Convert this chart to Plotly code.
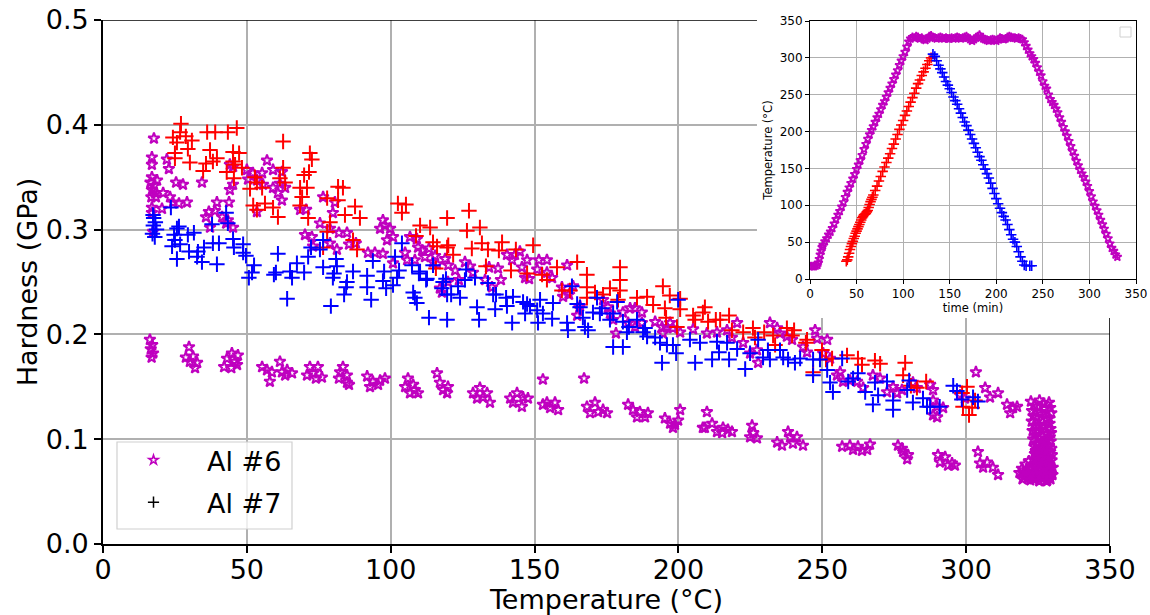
import plotly.graph_objects as go

# ---------------- main plot data: (temperature degC, hardness GPa) ----------------
al6_heat = [
(17.7,.387),(17.0,.369),(17.0,.362),(17.0,.350),(16.5,.345),(17.8,.342),(17.0,.338),(18.2,.335),
(16.8,.331),(18.4,.331),(18.8,.347),(22.2,.367),(22.9,.358),(25.4,.345),(27.8,.343),(20.9,.335),
(23.3,.331),(24.3,.326),(26.4,.325),(29.2,.326),(20.5,.320),(17.0,.321),(17.0,.316),(17.4,.298),
(34.4,.345),(36.8,.317),(35.8,.312),(37.2,.302),(39.6,.326),(44.1,.338),(45.2,.343),(44.1,.362),
(45.2,.360),(41.4,.312),(43.4,.309),(45.2,.302),(43.8,.326),(38.9,.318),(42.8,.306),(57.0,.366),
(50.0,.357),(52.1,.354),(55.3,.354),(50.4,.348),(53.5,.347),(55.6,.343),(53.5,.317),(59.1,.357),
(62.2,.355),(61.5,.344),(59.1,.340),(63.3,.340),(60.8,.335),(62.2,.328),(68.5,.319),(70.6,.319),
(76.5,.331),(79.9,.316),(80.6,.326),(70.2,.295),(72.6,.293),(73.0,.284),(75.4,.306),(78.9,.301),
(78.9,.287),(81.3,.281),(82.0,.297),(84.8,.297),(85.5,.286),(87.9,.287),(92.1,.278),(94.5,.278),
(97.3,.277),(96.3,.301),(98.0,.304),(99.8,.301),(100.8,.293),(100.8,.268),(105.0,.278),(106.7,.293),
(109.1,.291),(109.5,.283),(111.9,.274),(113.3,.282),(114.7,.269),(116.1,.267),(117.8,.240),(119.9,.250),
(97.3,.309),(98.7,.290),(105.7,.271),(108.4,.271),(115.4,.275),(110.9,.280),(118.9,.272),(120.0,.266),
(122.4,.261),(123.7,.252),(125.8,.269),(127.6,.265),(128.6,.259),(117.1,.244),(132.8,.252),(135.2,.245),
(134.2,.264),(137.3,.263),(138.3,.252),(140.4,.276),(142.2,.271),(143.2,.276),(144.9,.279),(147.4,.271),
(145.6,.264),(146.7,.254),(148.1,.253),(150.9,.262),(151.5,.271),(154.3,.271),(154.3,.259),(156.1,.254),
(161.3,.266),(159.5,.245),(159.9,.236),(162.0,.238),(163.4,.246),(164.8,.218),(165.5,.225),(165.8,.227),
(173.8,.233),(175.5,.226),(176.2,.220),(177.3,.214),(178.3,.201),(180.7,.221),(183.2,.225),(184.9,.225),
(187.3,.221),(182.5,.211),(184.9,.207),(187.3,.211),(191.9,.212),(194.3,.207),(196.0,.207),(197.1,.211),
(198.1,.206),(194.6,.201),(200.6,.202),(205.1,.205),(209.9,.201),(213.4,.202),(216.9,.204),(220.4,.211),
(218.6,.197),(222.5,.192),(227.7,.173),(224.9,.182),(227.3,.185),(231.8,.211),(234.3,.206),(235.3,.201),
(237.7,.198),(239.5,.195),(243.3,.188),(244.7,.183),(247.5,.204),(248.2,.196),(251.7,.195),(250.3,.182),
(252.7,.177),(255.1,.161),(256.2,.164),(257.2,.155),(259.6,.156),(262.1,.155),(264.2,.149),(267.6,.161),
(270.1,.158),(272.5,.145),(274.6,.150),(276.0,.144),(277.7,.147),(281.5,.154),(282.9,.149),(287.5,.152),
(288.5,.147),(288.5,.137),(289.9,.131),(288.5,.123),(289.9,.121),(292.0,.130),(297.9,.142),(299.6,.139),
(303.4,.164),(306.6,.149),(308.3,.140),(311.1,.144),(314.2,.133),(316.3,.130),(315.3,.125),(317.7,.131),
]

al6_hold = [
(325.5,.137),(326.8,.134),(324.9,.131),(327.4,.129),(325.8,.126),(326.2,.124),(324.6,.121),(327.9,.119),
(326.5,.116),(325.2,.114),(327.1,.112),(326.0,.109),(324.3,.107),(328.0,.105),(326.7,.103),(325.4,.101),
(327.6,.099),(326.1,.097),(324.8,.095),(327.3,.094),(325.9,.092),(326.4,.090),(328.3,.089),(324.9,.087),
(326.8,.086),(325.3,.084),(327.7,.083),(326.2,.082),(324.6,.080),(328.1,.079),(325.7,.078),(326.9,.077),
(324.2,.076),(327.5,.075),(323.6,.074),(328.6,.073),(325.1,.072),(329.0,.072),(322.4,.071),(326.3,.070),
(327.9,.070),(321.2,.069),(324.7,.068),(328.4,.068),(323.0,.067),(326.6,.067),(329.4,.066),(320.5,.066),
(325.8,.065),(327.3,.065),(322.0,.064),(329.1,.064),(324.0,.063),(326.9,.063),(319.6,.062),(323.5,.062),
(328.2,.061),
(322.5,.136),(328.8,.135),(323.8,.132),(329.2,.130),(322.9,.127),(329.6,.125),(323.4,.122),(328.9,.120),
(322.8,.117),(329.0,.115),(323.6,.113),(329.3,.110),(323.1,.108),(329.5,.106),(324.0,.104),(329.1,.102),
(323.3,.100),(329.4,.098),(324.4,.096),(328.8,.094),(323.7,.093),(329.6,.091),(324.2,.089),(329.2,.088),
(323.9,.086),(329.8,.085),(324.5,.083),(329.0,.082),(323.2,.081),(329.7,.080),(321.8,.079),(325.0,.078),
(328.5,.077),(320.6,.076),(323.8,.075),(327.0,.074),(330.1,.073),(319.4,.072),(322.6,.071),(325.6,.070),
(328.8,.069),(318.5,.068),(321.3,.067),(324.3,.066),(327.6,.065),(330.0,.066),(320.0,.064),(323.0,.063),
(326.1,.063),(329.3,.062),(322.3,.061),(325.4,.060),(328.0,.060),
]

al6_cool = [
(16.3,.195),(17.1,.190),(16.6,.186),(17.4,.182),(16.9,.178),
(29.9,.188),(28.8,.178),(31.3,.179),(30.2,.174),(32.7,.173),(32.0,.168),
(44.8,.182),(46.9,.180),(43.1,.177),(45.9,.174),(42.1,.169),(44.6,.168),(46.6,.171),
(55.3,.169),(57.0,.166),(58.0,.155),(58.7,.164),(61.5,.174),(62.2,.164),(64.0,.166),(65.7,.163),(63.3,.161),
(71.9,.169),(74.7,.169),(70.9,.161),(73.0,.163),(76.1,.159),(74.0,.158),
(83.4,.169),(82.4,.164),(84.8,.161),(82.0,.158),(84.8,.154),(85.5,.152),
(91.8,.160),(93.8,.155),(96.3,.156),(98.0,.158),(92.8,.150),(95.6,.152),
(106.0,.158),(105.0,.150),(107.8,.152),(106.7,.144),(109.5,.144),(108.4,.147),
(116.1,.163),(117.1,.154),(118.2,.147),(119.9,.150),(119.6,.144),
(128.6,.144),(131.0,.149),(132.1,.140),(134.5,.135),(130.0,.139),(133.5,.144),
(141.5,.139),(143.9,.144),(146.0,.140),(147.7,.139),(145.6,.131),(142.5,.135),
(152.9,.157),(167.2,.158),
(154.3,.135),(157.1,.135),(155.4,.130),(158.2,.128),(152.9,.133),
(168.2,.131),(171.0,.135),(172.1,.126),(173.8,.128),(169.3,.125),(175.2,.125),
(182.5,.133),(184.2,.128),(186.6,.126),(188.4,.121),(185.6,.121),(189.4,.125),
(195.3,.120),(197.1,.115),(198.8,.114),(199.9,.118),(198.1,.111),(200.6,.128),
(209.9,.126),
(209.2,.111),(211.7,.115),(213.4,.107),(215.5,.111),(217.2,.109),(215.2,.106),(218.6,.107),(208.5,.111),
(225.6,.113),(226.0,.106),(227.3,.101),(224.9,.102),
(234.3,.097),(236.0,.094),(238.1,.107),(238.8,.102),(241.2,.102),(243.3,.094),(239.8,.096),
(256.9,.093),(259.6,.094),(262.4,.093),(265.6,.090),(266.6,.095),(260.7,.090),(263.8,.089),
(276.3,.094),(278.1,.088),(279.8,.085),(279.5,.081),(277.7,.091),
(304.1,.088),
(290.2,.085),(292.7,.083),(295.1,.077),(293.7,.075),(290.9,.078),(296.1,.075),
(304.8,.077),(307.3,.078),(309.3,.073),(311.1,.066),(305.9,.073),
]

al7_heat = [
(27.1,.401),(26.8,.393),(24.3,.388),(25.7,.383),(28.8,.389),(30.9,.385),(29.5,.377),(25.0,.373),
(25.0,.368),(30.2,.364),(36.2,.393),(39.0,.393),(43.4,.393),(46.5,.397),(37.2,.376),(39.6,.368),
(38.2,.365),(35.8,.363),(34.8,.356),(45.2,.374),(47.3,.373),(45.2,.365),(43.0,.355),(45.9,.362),
(48.3,.359),(45.5,.349),(62.6,.384),(62.6,.359),(61.5,.349),(63.3,.345),(52.8,.350),(53.5,.345),
(51.1,.339),(55.3,.340),(52.2,.323),(56.3,.325),(59.1,.321),(60.8,.312),(53.5,.319),(71.9,.373),
(72.6,.367),(71.6,.355),(69.9,.352),(68.5,.340),(70.9,.340),(69.2,.331),(68.5,.323),(71.3,.311),
(77.9,.330),(81.7,.341),(83.4,.340),(81.7,.328),(84.1,.314),(87.6,.322),(89.3,.311),(86.9,.290),
(88.3,.281),(78.9,.307),(77.9,.298),(76.5,.283),(102.5,.325),(105.3,.324),(103.9,.316),(110.2,.304),
(113.7,.302),(108.8,.294),(114.7,.288),(116.1,.284),(119.6,.311),(119.6,.283),(127.2,.318),(131.0,.302),
(126.5,.299),(120.0,.285),(128.2,.282),(131.7,.287),(133.8,.281),(138.7,.288),(137.6,.280),(143.5,.281),
(149.5,.285),(141.8,.261),(133.1,.265),(121.7,.276),(115.7,.263),(147.4,.258),(152.6,.257),(154.3,.252),
(157.8,.264),(164.8,.269),(168.2,.257),(168.2,.245),(168.2,.235),(159.5,.242),(162.3,.242),(171.0,.240),
(173.8,.238),(176.2,.244),(179.7,.264),(179.7,.252),(179.7,.242),(179.0,.233),(185.6,.235),(189.1,.236),
(191.2,.228),(194.6,.246),(195.3,.225),(195.7,.216),(197.0,.237),(199.5,.207),(200.6,.234),(200.6,.224),
(205.1,.218),(205.8,.214),(209.2,.226),(208.5,.221),(210.3,.212),(213.0,.214),(214.5,.214),(217.6,.218),
(218.6,.204),(222.5,.202),(225.9,.206),(226.6,.197),(229.8,.202),(232.9,.199),(233.6,.190),(237.7,.206),
(240.2,.204),(239.5,.199),(244.7,.195),(244.3,.192),(246.8,.164),(249.9,.185),(251.3,.176),(253.4,.177),
(258.6,.180),(262.4,.177),(263.8,.171),(268.3,.175),(270.1,.172),(278.8,.173),(278.1,.161),(280.8,.151),
(282.9,.149),(286.1,.155),(298.6,.144),(300.3,.150),(303.1,.137),(302.1,.130),(298.9,.131),(301.0,.123),
]

al7_cool = [
(23.6,.321),(17.4,.314),(17.6,.311),(18.2,.307),(17.5,.304),(18.6,.300),(17.2,.296),(18.0,.293),
(26.4,.303),(25.7,.301),(24.7,.295),(25.0,.290),(24.0,.284),(26.8,.286),(25.7,.272),
(29.5,.295),(31.6,.297),(29.9,.279),(33.0,.279),(32.7,.274),(34.4,.269),(35.1,.283),
(38.2,.287),(40.3,.287),(39.6,.267),(42.8,.316),(43.4,.306),(37.9,.305),(45.2,.291),(45.5,.283),
(48.7,.286),(48.7,.278),(49.7,.275),(52.5,.266),(51.8,.259),(50.7,.254),
(60.8,.277),(60.1,.259),(59.4,.257),(65.0,.260),(65.7,.254),(67.4,.268),(64.0,.234),(69.9,.259),
(71.3,.274),(72.3,.283),(75.4,.281),(76.5,.290),(76.5,.264),(81.0,.272),(81.3,.265),(80.3,.258),
(79.9,.254),(84.5,.245),(84.8,.250),(83.8,.238),(86.9,.260),(79.2,.227),(91.8,.256),(91.8,.245),
(93.2,.233),(93.8,.270),(97.3,.251),(98.4,.244),(97.7,.260),(100.8,.247),(101.5,.274),(103.9,.287),
(107.8,.240),(108.4,.235),(109.1,.230),(113.3,.216),(119.6,.214),(110.2,.260),(112.3,.252),(114.7,.266),
(118.2,.250),(119.6,.238),(102.9,.261),(102.2,.254),(107.4,.266),(109.8,.258),(112.6,.253),
(117.8,.244),(119.2,.253),(121.0,.238),(124.1,.235),(123.4,.246),(126.2,.262),(125.8,.252),(129.3,.254),
(130.0,.226),(130.7,.214),(133.8,.249),(135.6,.238),(136.6,.238),(136.3,.224),(140.1,.235),(142.5,.236),
(142.2,.211),(140.4,.227),(146.0,.231),(147.4,.229),(148.4,.227),(146.7,.220),(150.9,.223),(151.9,.233),
(152.9,.220),(156.4,.230),(156.1,.215),(151.2,.211),(161.3,.211),(161.6,.204),(163.0,.246),(164.8,.229),
(165.8,.226),(166.8,.216),(167.5,.207),(168.6,.204),(170.3,.221),(171.7,.235),(172.7,.220),(173.4,.225),
(176.2,.214),(177.3,.220),(178.7,.231),(180.7,.212),(182.1,.202),(182.8,.207),(177.3,.188),(180.7,.188),
(185.6,.214),(187.7,.202),(189.1,.198),(191.9,.197),(193.6,.192),(196.0,.190),(198.1,.190),(199.2,.182),
(199.9,.233),(188.4,.206),(194.3,.173),(205.8,.173),(204.0,.195),(207.5,.192),(211.7,.176),(213.4,.193),
(214.1,.183),(217.6,.176),(216.9,.192),(220.4,.186),(223.2,.167),(224.9,.182),(227.7,.195),(229.4,.178),
(231.1,.185),(231.8,.176),(235.3,.185),(236.4,.178),(238.1,.176),(240.5,.173),(242.3,.177),(246.8,.176),
(246.8,.161),(249.2,.176),(251.7,.166),(252.7,.154),(253.7,.145),(256.9,.177),(259.0,.155),(260.7,.158),
(262.4,.163),(264.9,.145),(268.3,.154),(269.4,.142),(267.6,.133),(272.5,.155),(274.6,.137),(274.6,.128),
(279.5,.147),(280.2,.156),(281.5,.135),(285.0,.139),(286.4,.131),(287.5,.131),(295.5,.151),(296.8,.146),
(302.4,.140),(304.1,.136),(290.8,.131),(298.5,.138),
]

# ---------------- inset data: time (min) vs temperature (degC) ----------------
in_al6_time = [0,2,4,6,8,9,10,11,12,13,14,16,18,20,22,24,26,28,30,32,34,36,38,40,42,44,46,48,50,52,
               54,56,58,60,62,64,66,68,70,72,74,76,78,80,82,84,86,88,90,92,94,96,98,100,102,104,106,108,
               110,112,114,116,118,120,122,124,126,128,130,132,134,136,138,140,142,144,146,148,
               150,152,154,156,158,160,162,164,166,168,170,172,174,176,178,180,182,184,186,188,
               190,192,194,196,198,200,202,204,206,208,210,212,214,216,218,220,222,224,226,228,
               230,232,234,236,238,240,242,244,246,248,250,252,254,256,258,260,262,264,266,268,
               270,272,274,276,278,280,282,284,286,288,290,292,294,296,298,300,302,304,306,308,
               310,312,314,316,318,320,322,324,326,328,330]
in_al6_temp = [17,17,17,18,19,22,27,33,38,43,46,51,55,60,64,69,75,81,87,92,98,104,111,118,124,130,136,142,149,155,
               161,168,176,183,190,196,202,207,213,219,224,230,236,241,247,253,259,265,271,277,283,290,296,302,308,315,322,326,
               328,327,329,328,326,327,325,324,326,329,330,328,327,326,327,328,327,326,327,326,
               326,327,326,327,328,327,326,327,328,329,327,325,323,325,327,329,331,328,326,325,
               324,323,324,325,324,323,325,327,326,325,326,328,329,328,327,327,326,327,326,325,
               321,316,311,306,302,298,293,287,281,276,268,262,258,250,244,240,236,231,226,219,
               213,206,200,194,187,180,173,167,160,154,148,143,138,132,126,119,112,105,99,93,
               87,80,74,68,61,55,48,42,38,33,30]

in_al7h_time = [39,40,41,42,43,44,45,46,47,48,49,50,51,52,53,54,55,56,57,58,59,60,61,62,63,64,65,66,67,68,
                70,72,74,76,78,80,82,84,86,88,90,92,94,96,98,100,102,104,106,108,110,112,114,116,118,120,
                122,124,126,128,130]
in_al7h_temp = [24,26,30,35,40,44,48,51,55,58,62,65,68,71,74,77,80,83,85,87,88,89,91,93,97,101,105,108,111,114,
                120,126,133,139,146,152,158,164,170,177,183,190,196,203,209,215,222,228,234,240,246,252,259,265,270,276,
                281,286,291,296,300]

in_al7c_time = [132,134,136,138,140,142,144,146,148,150,152,154,156,158,160,162,164,166,168,170,
                172,174,176,178,180,182,184,186,188,190,192,194,196,198,200,202,204,206,208,210,
                212,214,216,218,220,222,224,226,228,230,232,236,238]
in_al7c_temp = [305,302,296,290,285,280,274,268,263,258,253,247,242,237,231,225,219,213,208,202,
                196,190,184,178,172,166,161,155,149,143,137,130,123,116,109,102,96,90,85,80,
                74,67,60,54,50,44,37,30,24,19,18,18,18]

main_ticks_x = [0, 50, 100, 150, 200, 250, 300, 350]
main_ticks_y = [0.0, 0.1, 0.2, 0.3, 0.4, 0.5]
inset_ticks = [0, 50, 100, 150, 200, 250, 300, 350]

MAG = '#bf00bf'
RED = '#ff0000'
BLUE = '#0000ff'
GRID = '#b0b0b0'
FONT = 'DejaVu Sans'


def unzip(pairs):
    return [p[0] for p in pairs], [p[1] for p in pairs]


def star(size, lw):
    return dict(symbol='star-open', size=size, color=MAG, line=dict(width=lw, color=MAG))


def plus(color, size, lw):
    return dict(symbol='cross-thin-open', size=size, color=color, line=dict(width=lw, color=color))


fig = go.Figure()

for pairs in (al6_heat, al6_hold, al6_cool):
    t, h = unzip(pairs)
    fig.add_trace(go.Scatter(x=t, y=h, mode='markers', marker=star(8.5, 2),
                             showlegend=False, xaxis='x', yaxis='y'))
t, h = unzip(al7_heat)
fig.add_trace(go.Scatter(x=t, y=h, mode='markers', marker=plus(RED, 11, 2),
                         showlegend=False, xaxis='x', yaxis='y'))
t, h = unzip(al7_cool)
fig.add_trace(go.Scatter(x=t, y=h, mode='markers', marker=plus(BLUE, 11, 2),
                         showlegend=False, xaxis='x', yaxis='y'))

# legend entries
fig.add_trace(go.Scatter(x=[None], y=[None], mode='markers', name='Al #6',
                         marker=star(7, 1.6), legendgroup='a', xaxis='x', yaxis='y'))
fig.add_trace(go.Scatter(x=[None], y=[None], mode='markers', name='Al #7',
                         marker=plus('black', 8, 1.5), legendgroup='b', xaxis='x', yaxis='y'))

# inset
fig.add_trace(go.Scatter(x=in_al6_time, y=in_al6_temp, mode='markers', marker=star(6.5, 1.6),
                         showlegend=False, xaxis='x2', yaxis='y2'))
fig.add_trace(go.Scatter(x=in_al7h_time, y=in_al7h_temp, mode='markers', marker=plus(RED, 7.5, 1.6),
                         showlegend=False, xaxis='x2', yaxis='y2'))
fig.add_trace(go.Scatter(x=in_al7c_time, y=in_al7c_temp, mode='markers', marker=plus(BLUE, 7.5, 1.6),
                         showlegend=False, xaxis='x2', yaxis='y2'))

W, H = 1150, 615
ML, MR, MT, MB = 103, 14, 20, 71
PW, PH = W - ML - MR, H - MT - MB


def px(xp):
    return (xp - ML) / PW


def py(yp):
    return (H - MB - yp) / PH


main_axis = dict(showgrid=True, gridcolor=GRID, gridwidth=1.6, zeroline=False, automargin=False,
                 showline=True, linecolor='black', linewidth=1.6, ticks='outside',
                 ticklen=7, tickwidth=1.6, tickcolor='black',
                 tickfont=dict(size=27, family=FONT, color='black'))
inset_axis = dict(showgrid=True, gridcolor=GRID, gridwidth=1, zeroline=False, automargin=False,
                  showline=True, linecolor='black', linewidth=1, mirror=True, ticks='outside',
                  ticklen=4, tickwidth=1, tickcolor='black', range=[0, 350],
                  tickvals=inset_ticks, tickfont=dict(size=12, family=FONT, color='black'))

fig.update_layout(
    template='none',
    width=W, height=H, margin=dict(l=ML, r=MR, t=MT, b=MB, pad=0, autoexpand=False),
    paper_bgcolor='white', plot_bgcolor='white',
    font=dict(family=FONT, color='black'),
    xaxis=dict(main_axis, domain=[0, px(1110)], range=[0, 350], tickvals=main_ticks_x,
               ticklabelstandoff=-6,
               title=dict(text='Temperature (°C)', font=dict(size=27, family=FONT), standoff=4)),
    yaxis=dict(main_axis, domain=[0, 1], range=[0, 0.5], tickvals=main_ticks_y, tickformat='.1f',
               title=dict(text='Hardness (GPa)', font=dict(size=27, family=FONT), standoff=0)),
    xaxis2=dict(inset_axis, domain=[px(810), 1.0], anchor='y2',
                title=dict(text='time (min)', font=dict(size=11.5, family=FONT), standoff=2)),
    yaxis2=dict(inset_axis, domain=[py(279), py(21)], anchor='x2',
                title=dict(text='Temperature (°C)', font=dict(size=11.5, family=FONT), standoff=4)),
    showlegend=True,
    legend=dict(x=px(100), y=py(436), xanchor='left', yanchor='top', bgcolor='rgba(0,0,0,0)',
                borderwidth=0, font=dict(size=27, family=FONT, color='black'),
                itemwidth=97, tracegroupgap=4, traceorder='grouped'),
)

shapes = [
    # white patch hiding main grid under the inset region (like the inset covering it)
    dict(type='rect', xref='x', yref='y', x0=227.3, x1=400, y0=0.2157, y1=0.6,
         fillcolor='white', line=dict(width=0), layer='between'),
    # partial top and right spines of the main axes
    dict(type='line', xref='x', yref='y', x0=0, x1=227.3, y0=0.5, y1=0.5,
         line=dict(color='black', width=1.6), layer='above'),
    dict(type='line', xref='x', yref='y', x0=350, x1=350, y0=0, y1=0.2157,
         line=dict(color='black', width=1.6), layer='above'),
    # main legend frame
    dict(type='rect', xref='paper', yref='paper', x0=px(117), x1=px(292), y0=py(529), y1=py(442),
         fillcolor='rgba(255,255,255,0.8)', line=dict(color='#d0d0d0', width=1.2), layer='above'),
    # empty inset legend frame
    dict(type='rect', xref='paper', yref='paper', x0=px(1120), x1=px(1131), y0=py(37), y1=py(27),
         fillcolor='white', line=dict(color='#d0d0d0', width=1), layer='above'),
]
fig.update_layout(shapes=shapes)

fig.write_html('out.html', config={'displayModeBar': False})

# remove the browser's default page margin so the figure sits at the window origin
with open('out.html', 'r', encoding='utf-8') as f:
    html = f.read()
html = html.replace('<head>', '<head><style>html,body{margin:0;padding:0;overflow:hidden;}</style>', 1)
with open('out.html', 'w', encoding='utf-8') as f:
    f.write(html)
